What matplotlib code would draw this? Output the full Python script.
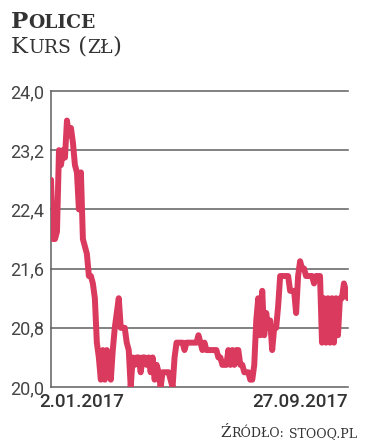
import matplotlib
matplotlib.use("Agg")
import matplotlib.pyplot as plt

# Kurs akcji Police, 2.01.2017 - 27.09.2017
prices = [
    22.8, 22.0, 22.0, 22.1, 23.2, 23.0, 23.2, 23.1, 23.6, 23.4,
    23.5, 23.3, 23.0, 22.9, 22.4, 22.9, 22.0, 21.9, 21.8, 21.5,
    21.5, 21.4, 21.2, 20.6, 20.4, 20.1, 20.5, 20.1, 20.5, 20.4,
    20.1, 20.5, 20.8, 21.0, 21.2, 20.8, 20.8, 20.8, 20.6, 20.5,
    20.0, 20.4, 20.3, 20.4, 20.4, 20.2, 20.4, 20.4, 20.3, 20.4,
    20.2, 20.4, 20.1, 20.3, 20.2, 20.0, 20.2, 20.2, 20.2, 20.2,
    20.1, 20.0, 20.4, 20.6, 20.6, 20.6, 20.6, 20.5, 20.6, 20.6,
    20.6, 20.6, 20.6, 20.6, 20.7, 20.6, 20.5, 20.6, 20.5, 20.5,
    20.5, 20.5, 20.5, 20.5, 20.4, 20.4, 20.3, 20.3, 20.3, 20.5,
    20.3, 20.5, 20.3, 20.5, 20.5, 20.3, 20.3, 20.2, 20.2, 20.2,
    20.1, 20.1, 20.3, 20.9, 21.2, 20.7, 21.3, 20.7, 21.0, 20.8,
    20.9, 20.5, 20.8, 20.8, 21.1, 21.5, 21.5, 21.5, 21.5, 21.5,
    21.3, 21.3, 21.3, 21.0, 21.5, 21.7, 21.6, 21.6, 21.5, 21.5,
    21.5, 21.5, 21.4, 21.5, 21.5, 21.5, 20.6, 21.2, 20.6, 21.2,
    20.6, 21.2, 20.6, 21.2, 20.7, 21.2, 21.2, 21.4, 21.3, 21.2,
]
y_ticks = [20.0, 20.8, 21.6, 22.4, 23.2, 24.0]
y_labels = ["20,0", "20,8", "21,6", "22,4", "23,2", "24,0"]
date_labels = ["2.01.2017", "27.09.2017"]

RED = "#db3a5f"
GRID = "#5f5f5f"
TXT = "#333333"
SANS = ["Roboto", "DejaVu Sans"]

fig = plt.figure(figsize=(3.67, 4.48), dpi=100)
ax = fig.add_axes([0.139, 0.136, 0.809, 0.661])

x = list(range(len(prices)))
ax.plot(x, prices, color=RED, lw=4.3, solid_joinstyle="round", solid_capstyle="round", zorder=3)

ax.set_xlim(0, len(prices) - 1)
ax.set_ylim(20.0, 24.0)
ax.set_yticks(y_ticks)
ax.set_yticklabels(y_labels)
ax.set_xticks([])
for t in y_ticks:
    ax.axhline(t, color=GRID, lw=1.1, zorder=1, clip_on=False)

for s in ["top", "right", "bottom"]:
    ax.spines[s].set_visible(False)
ax.spines["left"].set_color(GRID)
ax.spines["left"].set_linewidth(1.1)
ax.tick_params(axis="y", length=0, pad=5, labelsize=13, labelcolor="#444444")
for lab in ax.get_yticklabels():
    lab.set_family(SANS)

ax.text(-0.04, -0.02, date_labels[0], transform=ax.transAxes, ha="left", va="top",
        fontsize=13.5, color=TXT, family=SANS, weight="medium")
ax.text(1, -0.02, date_labels[1], transform=ax.transAxes, ha="right", va="top",
        fontsize=13.5, color=TXT, family=SANS, weight="medium")

renderer = fig.canvas.get_renderer()


def small_caps(x0, y0, text, big, small, weight="normal", ha="left"):
    # first letter and brackets large, the rest as small capitals
    pieces = []
    for i, ch in enumerate(text):
        size = big if (i == 0 or ch in "() ") else small
        if pieces and pieces[-1][1] == size:
            pieces[-1][0] += ch.upper()
        else:
            pieces.append([ch.upper(), size])
    arts = []
    xpos = x0
    for s, size in pieces:
        t = fig.text(xpos, y0, s, fontsize=size, color=TXT, family="DejaVu Serif",
                     weight=weight, va="baseline", ha="left")
        bb = t.get_window_extent(renderer)
        xpos = bb.x1 / fig.bbox.width
        arts.append(t)
    if ha == "right":
        shift = x0 - xpos
        for t in arts:
            px, py = t.get_position()
            t.set_position((px + shift, py))


small_caps(0.030, 0.937, "Police", 16.5, 13.5, weight="bold")
small_caps(0.030, 0.882, "Kurs (zł)", 16.5, 13.5)
small_caps(0.972, 0.025, "Źródło: stooq.pl", 11, 9, ha="right")

fig.savefig("out.png", dpi=100, facecolor="white")
